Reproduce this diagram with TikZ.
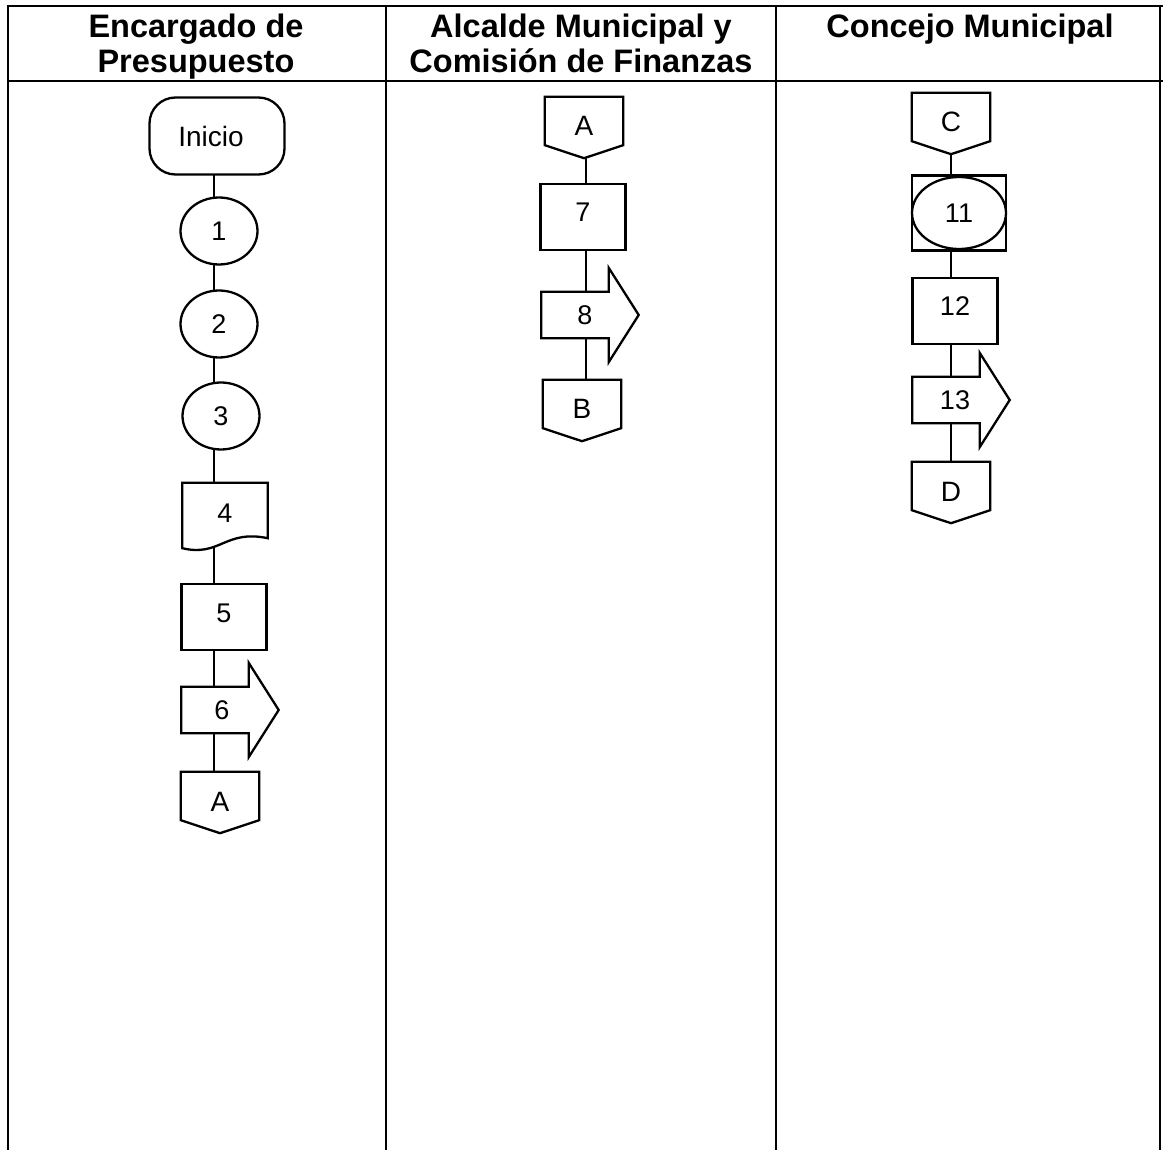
\documentclass[tikz,border=0pt]{standalone}
\usepackage{fontspec}
\setmainfont{Liberation Sans}
\usetikzlibrary{calc,shapes.geometric}
\pgfdeclarelayer{lines}
\pgfdeclarelayer{outlines}
\pgfsetlayers{lines,outlines,main}
\begin{document}
\begin{tikzpicture}[x=1pt,y=-1pt,
  grid/.style={line width=1.8pt},
  outline/.style={line width=2.3pt},
  hdr/.style={font=\fontsize{32.5}{35}\selectfont\bfseries, align=center, anchor=north, inner sep=0pt},
  lbl/.style={font=\fontsize{27}{30}\selectfont},
  letter/.style={font=\fontsize{28}{30}\selectfont},
  termbox/.style={outline, letter, draw, fill=white, rounded corners=26pt, minimum width=135pt, minimum height=77pt},
  opcirc/.style={outline, lbl, draw, fill=white, ellipse, minimum width=77pt, minimum height=67pt, inner sep=0pt},
  procbox/.style={outline, lbl, draw, fill=white, rectangle, minimum width=85pt, minimum height=66pt,
                  text height=20pt, text depth=10pt},
  combox/.style={outline, lbl, draw, fill=white, rectangle, minimum width=94pt, minimum height=75pt},
  docshape/.style={lbl, minimum width=85pt, minimum height=60pt, inner sep=0pt},
  shipbody/.style={lbl, minimum width=67pt, minimum height=46pt, inner sep=0pt},
  offpage/.style={letter, minimum width=78pt, minimum height=48pt, inner sep=0pt,
                  text height=30pt, text depth=0pt},
  flowline/.style={line width=2.3pt},
]
\useasboundingbox (0,0) rectangle (1163,1150);

% swimlane table
\draw[grid] (7,6) -- (1163,6);
\draw[grid] (7,81) -- (1163,81);
\foreach \x in {8,386,776,1160} \draw[grid] (\x,6) -- (\x,1150);

% lane headings
\node[hdr] (h1) at (196,14) {Encargado de\\Presupuesto};
\node[hdr] (h2) at (581,14) {Alcalde Municipal y\\Comisión de Finanzas};
\node[hdr] (h3) at (970,14) {Concejo Municipal};

% flow axes of the three lanes
\coordinate (colL) at (214,0);
\coordinate (colM) at (586,0);
\coordinate (colR) at (951,0);

% lane 1
\node[termbox] (ini) at (217,136) {\hspace*{-12pt}Inicio};
\node[opcirc] (o1) at (219,231) {1};
\node[opcirc] (o2) at (219,324) {2};
\node[opcirc] (o3) at (221,416) {3};
\node[docshape] (d4) at (225,513) {4};
\node[procbox] (p5) at (224,617) {5};
\node[shipbody] (s6) at (215,710) {\hspace*{14pt}6};
\node[offpage] (a1) at (220,796) {A};

% lane 2
\node[offpage] (a2) at (584,121) {A};
\node[procbox] (p7) at (583,217) {7};
\node[shipbody] (s8) at (575,315) {\hspace*{20pt}8};
\node[offpage] (b2) at (582,404) {B};

% lane 3
\node[offpage] (c3) at (951,117) {C};
\node[combox] (q11) at (959,213) {11};
\node[procbox] (p12) at (955,311) {12};
\node[shipbody] (s13) at (946,400) {\hspace*{18pt}13};
\node[offpage] (d3) at (951,486) {D};

% combined symbol: operation inside inspection
\draw[outline] (q11.center) ellipse [x radius=47pt, y radius=36pt];

% outlines of the drawn symbols
\begin{pgfonlayer}{outlines}
  \filldraw[outline, fill=white] (d4.north west) -- (d4.north east)
    -- ($(d4.south east)+(0,-5)$)
    .. controls ($(d4.south)+(0,-14)$) and ($(d4.south)+(-5,14)$) .. ($(d4.south west)+(0,5)$)
    -- cycle;
  \foreach \n in {s6,s8,s13}
    \filldraw[outline, fill=white] (\n.north west) -- (\n.north east)
      -- ($(\n.north east)+(0,-24)$) -- ($(\n.east)+(30,0)$)
      -- ($(\n.south east)+(0,24)$) -- (\n.south east) -- (\n.south west) -- cycle;
  \foreach \n in {a1,a2,b2,c3,d3}
    \filldraw[outline, fill=white] (\n.north west) -- (\n.north east) -- (\n.south east)
      -- ($(\n.south)+(0,13)$) -- (\n.south west) -- cycle;
\end{pgfonlayer}

% connectors
\begin{pgfonlayer}{lines}
  \draw[flowline] (ini.center -| colL) -- (o1.center -| colL);
  \draw[flowline] (o1.center -| colL) -- (o2.center -| colL);
  \draw[flowline] (o2.center -| colL) -- (o3.center -| colL);
  \draw[flowline] (o3.center -| colL) -- (d4.center -| colL);
  \draw[flowline] (d4.center -| colL) -- (p5.center -| colL);
  \draw[flowline] (p5.center -| colL) -- (s6.center -| colL);
  \draw[flowline] (s6.center -| colL) -- (a1.center -| colL);
  \draw[flowline] (a2.center -| colM) -- (p7.center -| colM);
  \draw[flowline] (p7.center -| colM) -- (s8.center -| colM);
  \draw[flowline] (s8.center -| colM) -- (b2.center -| colM);
  \draw[flowline] (c3.center -| colR) -- (q11.center -| colR);
  \draw[flowline] (q11.center -| colR) -- (p12.center -| colR);
  \draw[flowline] (p12.center -| colR) -- (s13.center -| colR);
  \draw[flowline] (s13.center -| colR) -- (d3.center -| colR);
\end{pgfonlayer}
\end{tikzpicture}
\end{document}
